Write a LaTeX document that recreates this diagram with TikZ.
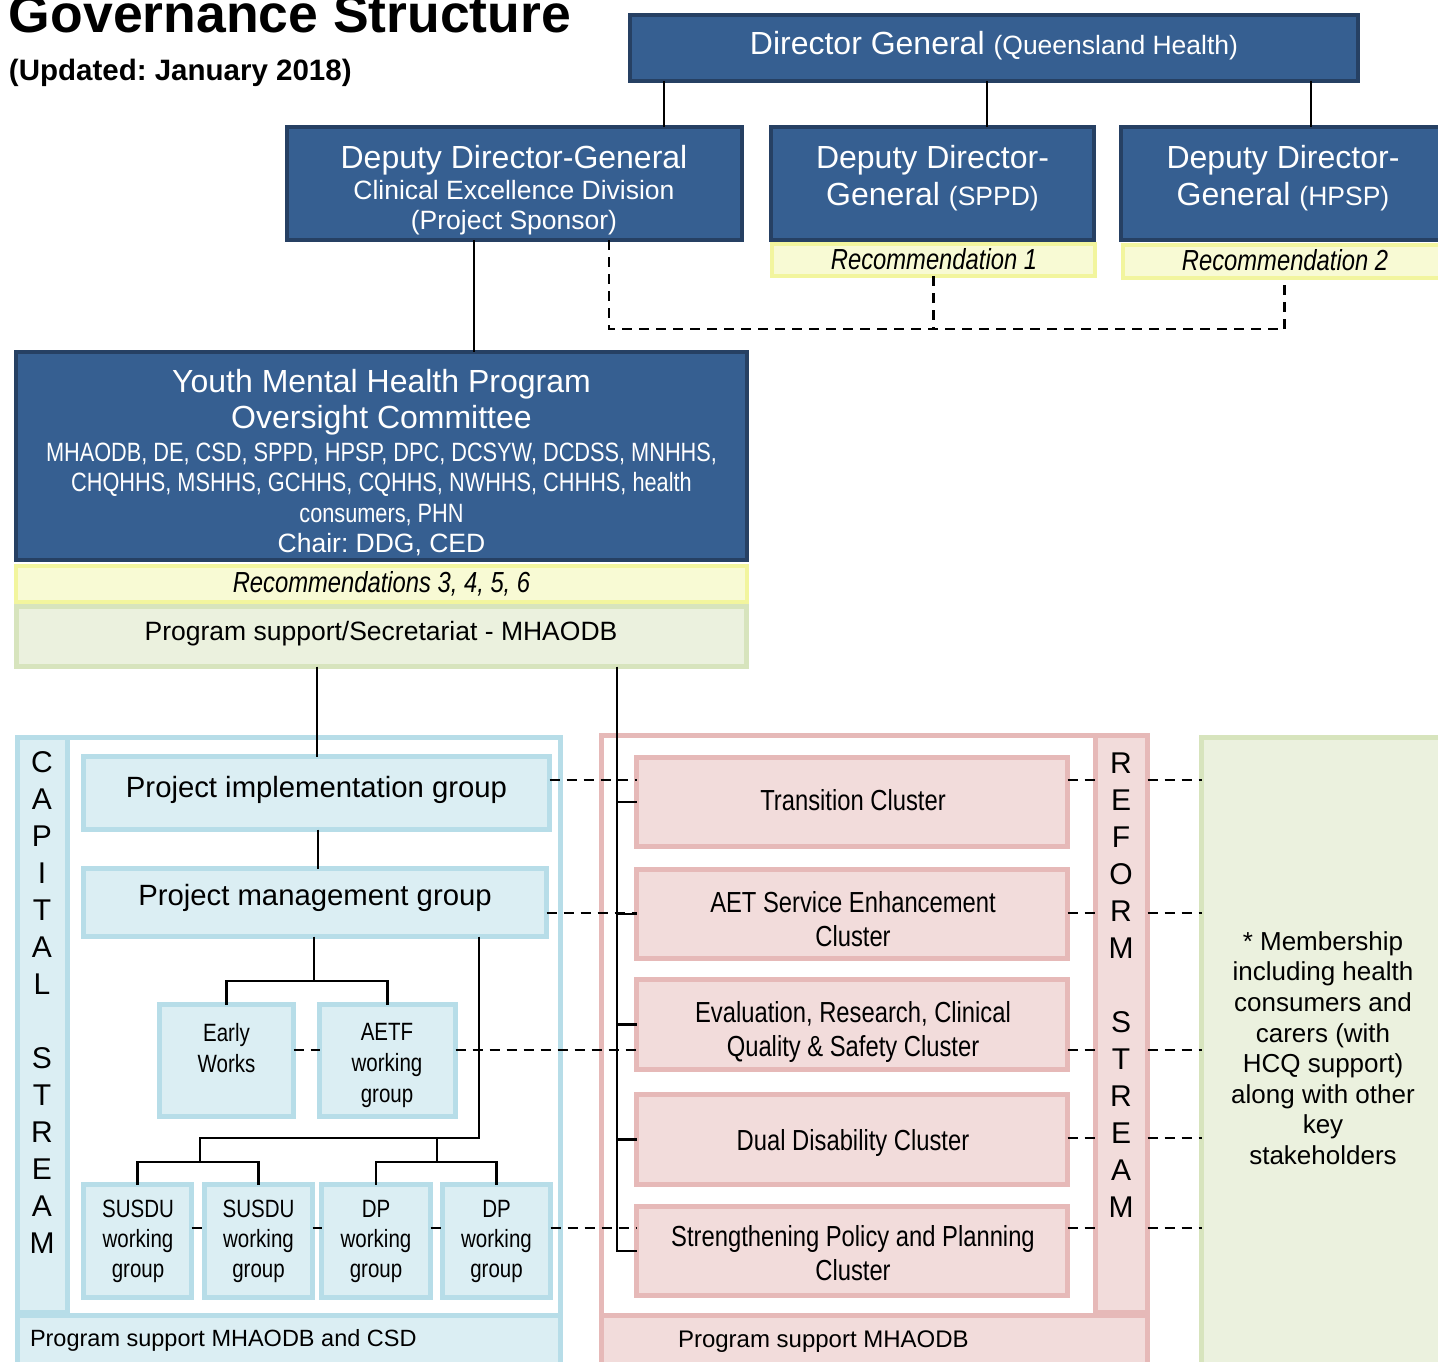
\documentclass[tikz,border=0pt]{standalone}
\usepackage{fontspec}
\setmainfont{Liberation Sans}
\newfontfamily\narrowfont[FakeStretch=0.82]{Liberation Sans}
\frenchspacing
\definecolor{navyF}{RGB}{54,95,145}
\definecolor{navyB}{RGB}{38,64,99}
\definecolor{ltbF}{RGB}{219,238,243}
\definecolor{ltbB}{RGB}{183,221,232}
\definecolor{redF}{RGB}{242,220,219}
\definecolor{redB}{RGB}{230,185,184}
\definecolor{grnF}{RGB}{235,241,222}
\definecolor{grnB}{RGB}{215,228,189}
\definecolor{ylwF}{RGB}{248,250,212}
\definecolor{ylwB}{RGB}{242,245,158}
\newcommand\fsz[2]{\fontsize{#1}{#2}\selectfont}
\begin{document}
\begin{tikzpicture}[x=1pt,y=-1pt,
  every node/.style={inner sep=0pt, outer sep=0pt},
  navybox/.style={draw=navyB, fill=navyF, line width=4pt, rectangle},
  ylwbox/.style={draw=ylwB, fill=ylwF, line width=4pt, rectangle},
  grnbox/.style={draw=grnB, fill=grnF, line width=5pt, rectangle},
  ltbbox/.style={draw=ltbB, fill=ltbF, line width=5pt, rectangle},
  redbox/.style={draw=redB, fill=redF, line width=5pt, rectangle},
  ltbframe/.style={draw=ltbB, fill=white, line width=5pt, rectangle},
  redframe/.style={draw=redB, fill=white, line width=5pt, rectangle},
  wtxt/.style={text=white, align=center},
  btxt/.style={text=black, align=center},
  conn/.style={line width=2.5pt, black},
  dsh/.style={line width=2.5pt, black, dash pattern=on 10pt off 7pt},
  bigf/.style={font=\fsz{32}{37}},
  midf/.style={font=\fsz{26.5}{30.5}},
  narf/.style={font=\narrowfont\fsz{29}{34}},
  narit/.style={font=\narrowfont\itshape\fsz{29}{34}},
  smallnar/.style={font=\narrowfont\fsz{25}{30}},
  grpf/.style={font=\fsz{29.3}{34}}
]
\useasboundingbox (0,0) rectangle (1438,1362);

% ---------- title ----------
\node[anchor=base west, font=\bfseries\fsz{53.5}{60}] (title) at (9,33) {Governance Structure};
\node[anchor=base west, font=\bfseries\fsz{29.5}{34}] (upd) at (9,81) {(Updated: January 2018)};

% ---------- top boxes ----------
\node[navybox, minimum width=728pt, minimum height=66pt] (dg) at (994,48) {};
\node[wtxt, bigf, anchor=base] (dgT) at (994,55) {Director General {\fsz{26.5}{31}(Queensland Health)}};

\node[navybox, minimum width=455pt, minimum height=113pt] (ced) at (514.5,183.5) {};
\node[wtxt, bigf, anchor=base] (cedT1) at (514,168) {Deputy Director-General};
\node[wtxt, font=\fsz{26.5}{29.5}] (cedT2) at (514,207.5) {Clinical Excellence Division\\(Project Sponsor)};

\node[navybox, minimum width=323pt, minimum height=113pt] (sppd) at (932.5,183.5) {};
\node[wtxt, bigf] (sppdT) at (932.5,177.8) {Deputy Director-\\General {\fsz{26.5}{37}(SPPD)}};
\node[ylwbox, minimum width=323pt, minimum height=32pt] (rec1) at (933.5,260) {};
\node[btxt, narit, anchor=base] (rec1T) at (934,269) {Recommendation 1};

\node[navybox, minimum width=323pt, minimum height=113pt] (hpsp) at (1282.5,183.5) {};
\node[wtxt, bigf] (hpspT) at (1283,177.8) {Deputy Director-\\General {\fsz{26.5}{37}(HPSP)}};
\node[ylwbox, minimum width=323pt, minimum height=33pt] (rec2) at (1284.5,261.5) {};
\node[btxt, narit, anchor=base] (rec2T) at (1285,270) {Recommendation 2};

% ---------- oversight committee ----------
\node[navybox, minimum width=731pt, minimum height=208pt] (ymhp) at (381.5,456) {};
\node[wtxt, font=\fsz{32}{36}] (ymhpT1) at (381.5,401.9) {Youth Mental Health Program\\Oversight Committee};
\node[wtxt, font=\narrowfont\fsz{26.5}{30.5}] (ymhpT2) at (381.5,484) {MHAODB, DE, CSD, SPPD, HPSP, DPC, DCSYW, DCDSS, MNHHS,\\CHQHHS, MSHHS, GCHHS, CQHHS, NWHHS, CHHHS, health\\consumers, PHN};
\node[wtxt, midf, anchor=base] (ymhpT3) at (381.5,552) {Chair: DDG, CED};
\node[ylwbox, minimum width=731pt, minimum height=36pt] (rec3) at (381.5,584) {};
\node[btxt, narit, anchor=base] (rec3T) at (381.5,592) {Recommendations 3, 4, 5, 6};
\node[grnbox, minimum width=730pt, minimum height=60pt] (psec) at (381.5,636.5) {};
\node[btxt, midf, anchor=base] (psecT) at (381,640) {Program support/Secretariat - MHAODB};

% ---------- containers ----------
\node[ltbframe, minimum width=543pt, minimum height=630pt] (capframe) at (289,1052.5) {};
\node[ltbbox, minimum width=50pt, minimum height=575pt] (capstrip) at (42.5,1025) {};
\node[ltbbox, minimum width=543pt, minimum height=52pt] (capsup) at (289,1341.5) {};
\node[btxt, font=\fsz{30}{37}] (capT) at (42,1002.5) {C\\A\\P\\I\\T\\A\\L\\[37pt]S\\T\\R\\E\\A\\M};
\node[btxt, font=\fsz{23.5}{28}, anchor=base west] (capsupT) at (30,1346) {Program support MHAODB and CSD};

\node[redframe, minimum width=546pt, minimum height=632pt] (refframe) at (874.5,1051.5) {};
\node[redbox, minimum width=52pt, minimum height=577pt] (refstrip) at (1121.5,1024) {};
\node[redbox, minimum width=546pt, minimum height=52pt] (refsup) at (874.5,1341.5) {};
\node[btxt, font=\fsz{30}{37}] (refT) at (1121,985.3) {R\\E\\F\\O\\R\\M\\[37pt]S\\T\\R\\E\\A\\M};
\node[btxt, font=\fsz{24}{28}, anchor=base west] (refsupT) at (678,1347) {Program support MHAODB};

\node[grnbox, minimum width=246pt, minimum height=630pt] (memb) at (1324.5,1052.5) {};
\node[btxt, font=\fsz{26}{30.6}] (membT) at (1323,1048) {* Membership\\including health\\consumers and\\carers (with\\HCQ support)\\along with other\\key\\stakeholders};

% ---------- capital stream boxes ----------
\node[ltbbox, minimum width=466pt, minimum height=73pt] (pig) at (316.5,793) {};
\node[btxt, grpf, anchor=base] (pigT) at (316.5,797) {Project implementation group};
\node[ltbbox, minimum width=463pt, minimum height=68pt] (pmg) at (315,902.5) {};
\node[btxt, grpf, anchor=base] (pmgT) at (315,905) {Project management group};
\node[ltbbox, minimum width=134pt, minimum height=112pt] (early) at (226.5,1060.5) {};
\node[btxt, font=\narrowfont\fsz{25}{31}] (earlyT) at (226.5,1047.6) {Early\\Works};
\node[ltbbox, minimum width=136pt, minimum height=112pt] (aetf) at (387.5,1060.5) {};
\node[btxt, font=\narrowfont\fsz{25}{31}] (aetfT) at (387,1065.7) {AETF\\working\\group};
\node[ltbbox, minimum width=108pt, minimum height=113pt] (su1) at (137.5,1241) {};
\node[btxt, smallnar] (su1T) at (138,1241.5) {SUSDU\\working\\group};
\node[ltbbox, minimum width=108pt, minimum height=113pt] (su2) at (258.5,1241) {};
\node[btxt, smallnar] (su2T) at (258.5,1241.5) {SUSDU\\working\\group};
\node[ltbbox, minimum width=109pt, minimum height=113pt] (dp1) at (376,1241) {};
\node[btxt, smallnar] (dp1T) at (376,1241.5) {DP\\working\\group};
\node[ltbbox, minimum width=108pt, minimum height=113pt] (dp2) at (496.5,1241) {};
\node[btxt, smallnar] (dp2T) at (496.5,1241.5) {DP\\working\\group};

% ---------- reform stream clusters ----------
\node[redbox, minimum width=431pt, minimum height=89pt] (trans) at (852,802) {};
\node[btxt, narf, anchor=base] (transT) at (853,810) {Transition Cluster};
\node[redbox, minimum width=431pt, minimum height=89pt] (aet) at (852,914) {};
\node[btxt, narf] (aetT) at (853,919.6) {AET Service Enhancement\\Cluster};
\node[redbox, minimum width=431pt, minimum height=90pt] (eval) at (852,1024.5) {};
\node[btxt, narf] (evalT) at (853,1031.7) {Evaluation, Research, Clinical\\Quality \& Safety Cluster};
\node[redbox, minimum width=431pt, minimum height=90pt] (dual) at (852,1139.5) {};
\node[btxt, narf, anchor=base] (dualT) at (853,1150) {Dual Disability Cluster};
\node[redbox, minimum width=431pt, minimum height=89pt] (strg) at (852,1251) {};
\node[btxt, narf] (strgT) at (853,1253.5) {Strengthening Policy and Planning\\Cluster};

% ---------- helper coordinates ----------
\coordinate (x664) at (664,0);
\coordinate (x987) at (987,0);
\coordinate (x1311) at (1311,0);
\coordinate (x474) at (474,0);
\coordinate (x317) at (317,0);
\coordinate (x318) at (318,0);
\coordinate (x617) at (617,0);
\coordinate (j1) at (314,981);
\coordinate (j2) at (479,1138);
\coordinate (sb) at (200,1162);
\coordinate (db) at (437,1162);
\coordinate (dl) at (609,329);
\coordinate (y780) at (0,780);
\coordinate (y913) at (0,913);
\coordinate (y1050) at (0,1050);
\coordinate (y1138) at (0,1138);
\coordinate (y1228) at (0,1228);

% ---------- solid connectors ----------
\draw[conn] (dg.south -| x664) -- (ced.north -| x664);
\draw[conn] (dg.south -| x987) -- (sppd.north -| x987);
\draw[conn] (dg.south -| x1311) -- (hpsp.north -| x1311);
\draw[conn] (ced.south -| x474) -- (ymhp.north -| x474);
\draw[conn] (psec.south -| x317) -- (pig.north -| x317);
\draw[conn] (psec.south -| x617) |- (strg.west);
\foreach \n in {trans,aet,eval,dual} {\draw[conn] (\n.west -| x617) -- (\n.west);}
\draw[conn] (pig.south -| x318) -- (pmg.north -| x318);
\draw[conn] (pmg.south -| j1) -- (j1);
\draw[conn] (early.north) |- (j1) -| (aetf.north);
\draw[conn] (pmg.south -| j2) -- (j2) -- (j2 -| sb) -- (sb);
\draw[conn] (su1.north) |- (sb) -| (su2.north);
\draw[conn] (j2 -| db) -- (db);
\draw[conn] (dp1.north) |- (db) -| (dp2.north);

% ---------- dashed connectors ----------
\draw[dsh] (ced.south -| dl) -- (dl) -| (rec2.south);
\draw[dsh] (rec1.south) -- (rec1.south |- dl);
\draw[dsh] (pig.east |- y780) -- (trans.west |- y780);
\draw[dsh] (pmg.east |- y913) -- (aet.west |- y913);
\draw[dsh] (early.east |- y1050) -- (aetf.west |- y1050);
\draw[dsh] (aetf.east |- y1050) -- (eval.west |- y1050);
\draw[dsh] (su1.east |- y1228) -- (su2.west |- y1228);
\draw[dsh] (su2.east |- y1228) -- (dp1.west |- y1228);
\draw[dsh] (dp1.east |- y1228) -- (dp2.west |- y1228);
\draw[dsh] (dp2.east |- y1228) -- (strg.west |- y1228);
\foreach \n/\yy in {trans/y780, aet/y913, eval/y1050, dual/y1138, strg/y1228} {
  \draw[dsh] (\n.east |- \yy) -- (refstrip.west |- \yy);
  \draw[dsh] (refstrip.east |- \yy) -- (memb.west |- \yy);
}
\end{tikzpicture}
\end{document}
